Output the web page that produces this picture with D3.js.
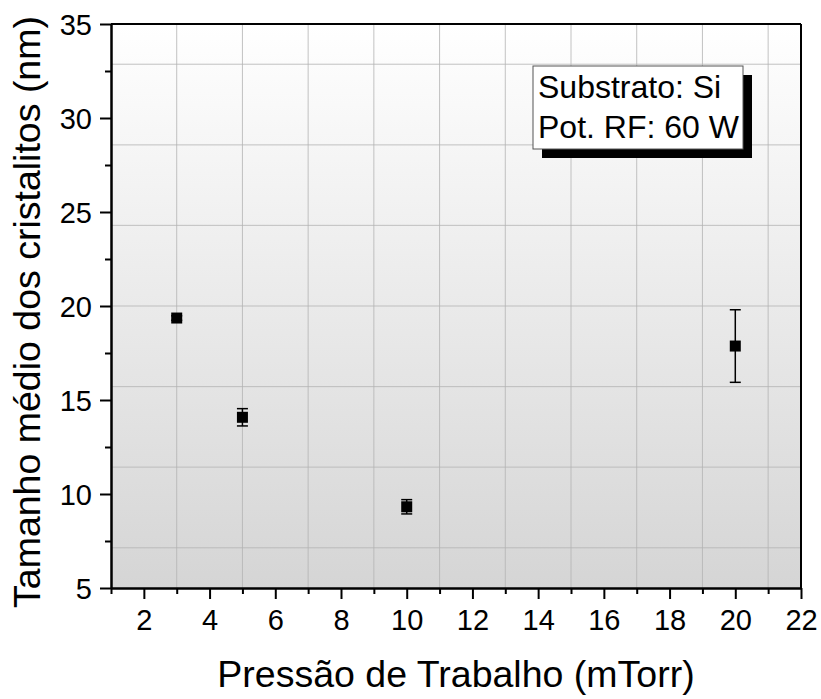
<!DOCTYPE html>
<html><head><meta charset="utf-8">
<script src="https://cdn.jsdelivr.net/npm/d3@7"></script>
<style>body{margin:0;background:#fff;}svg{display:block;font-family:"Liberation Sans",Arial,sans-serif;}</style>
</head><body>
<svg id="chart" width="821" height="699"></svg>
<script>
const pressures = [3, 5, 10, 20];
const sizes = [19.36, 14.08, 9.32, 17.87];
const errors = [0.12, 0.46, 0.38, 1.93];
const xMajorTicks = [2,4,6,8,10,12,14,16,18,20,22];
const xMinorTicks = [1,3,5,7,9,11,13,15,17,19,21];
const yMajorTicks = [5,10,15,20,25,30,35];
const yMinorTicks = [7.5,12.5,17.5,22.5,27.5,32.5];
const xGrid = [3,5,7,9,11,13,15,17,19,21];
const yGrid = [7.14,11.43,15.71,20,24.29,28.57,32.86];
const legendLines = ["Substrato: Si","Pot. RF: 60 W"];
const xTitle = "Pressão de Trabalho (mTorr)";
const yTitle = "Tamanho médio dos cristalitos (nm)";

const svg = d3.select("#chart");
const L=111, R=801, T=24, B=588;
const x = d3.scaleLinear().domain([1,22]).range([L,R]);
const y = d3.scaleLinear().domain([5,35]).range([B,T]);

const defs = svg.append("defs");
const grad = defs.append("linearGradient").attr("id","bg").attr("x1",0).attr("y1",0).attr("x2",0).attr("y2",1);
grad.append("stop").attr("offset","0%").attr("stop-color","#ffffff");
grad.append("stop").attr("offset","100%").attr("stop-color","#d5d5d5");

svg.append("rect").attr("x",L).attr("y",T).attr("width",R-L).attr("height",B-T).attr("fill","url(#bg)");

// grid
svg.append("g").selectAll("line").data(xGrid).join("line")
  .attr("x1",d=>x(d)).attr("x2",d=>x(d)).attr("y1",T).attr("y2",B)
  .attr("stroke","#b4b4b4").attr("stroke-width",1).attr("opacity",0.8);
svg.append("g").selectAll("line").data(yGrid).join("line")
  .attr("y1",d=>y(d)).attr("y2",d=>y(d)).attr("x1",L).attr("x2",R)
  .attr("stroke","#b4b4b4").attr("stroke-width",1).attr("opacity",0.8);

// axes
const fontSize = 29;
const xAxis = svg.append("g").attr("transform",`translate(0,${B})`)
  .call(d3.axisBottom(x).tickValues(xMajorTicks).tickSize(11).tickSizeOuter(0).tickPadding(10).tickFormat(d3.format("d")));
const xMinor = svg.append("g").attr("transform",`translate(0,${B})`)
  .call(d3.axisBottom(x).tickValues(xMinorTicks).tickSize(6).tickSizeOuter(0).tickFormat(""));
const yAxis = svg.append("g").attr("transform",`translate(${L},0)`)
  .call(d3.axisLeft(y).tickValues(yMajorTicks).tickSize(11).tickSizeOuter(0).tickPadding(8).tickFormat(d3.format("d")));
const yMinor = svg.append("g").attr("transform",`translate(${L},0)`)
  .call(d3.axisLeft(y).tickValues(yMinorTicks).tickSize(6).tickSizeOuter(0).tickFormat(""));
[xAxis,xMinor,yAxis,yMinor].forEach(g=>{
  g.selectAll(".domain").attr("stroke","#000").attr("stroke-width",2);
  g.selectAll(".tick line").attr("stroke","#000").attr("stroke-width",2);
  g.selectAll("text").attr("font-size",fontSize).attr("fill","#000").attr("font-family","Liberation Sans, Arial, sans-serif");
});
yAxis.selectAll("text").attr("dy","0.36em");

// frame top & right
svg.append("line").attr("x1",L).attr("x2",R).attr("y1",T).attr("y2",T).attr("stroke","#000").attr("stroke-width",2);
svg.append("line").attr("x1",R).attr("x2",R).attr("y1",T).attr("y2",B).attr("stroke","#000").attr("stroke-width",2);

// data
const data = pressures.map((p,i)=>({p, s:sizes[i], e:errors[i]}));
const eb = svg.append("g").selectAll("g").data(data).join("g");
const cap = 5.5;
eb.append("line").attr("x1",d=>x(d.p)).attr("x2",d=>x(d.p)).attr("y1",d=>y(d.s+d.e)).attr("y2",d=>y(d.s-d.e)).attr("stroke","#000").attr("stroke-width",1.5);
eb.append("line").attr("x1",d=>x(d.p)-cap).attr("x2",d=>x(d.p)+cap).attr("y1",d=>y(d.s+d.e)).attr("y2",d=>y(d.s+d.e)).attr("stroke","#000").attr("stroke-width",1.5);
eb.append("line").attr("x1",d=>x(d.p)-cap).attr("x2",d=>x(d.p)+cap).attr("y1",d=>y(d.s-d.e)).attr("y2",d=>y(d.s-d.e)).attr("stroke","#000").attr("stroke-width",1.5);
eb.append("rect").attr("x",d=>x(d.p)-5.5).attr("y",d=>y(d.s)-5.5).attr("width",11).attr("height",11).attr("fill","#000");

// legend
const lx=533, ly=66, lw=210, lh=83;
svg.append("rect").attr("x",lx+9).attr("y",ly+9).attr("width",lw).attr("height",lh).attr("fill","#000");
svg.append("rect").attr("x",lx).attr("y",ly).attr("width",lw).attr("height",lh).attr("fill","#fff").attr("stroke","#555").attr("stroke-width",1);
svg.append("g").selectAll("text").data(legendLines).join("text")
  .attr("x",lx+5).attr("y",(d,i)=>ly+32+i*40).attr("font-size",32).attr("fill","#000").text(d=>d);

// titles
svg.append("text").attr("x",(L+R)/2).attr("y",687).attr("text-anchor","middle").attr("font-size",37.5).attr("fill","#000").text(xTitle);
svg.append("text").attr("transform",`translate(40,${(T+B)/2 + 6}) rotate(-90)`).attr("text-anchor","middle").attr("font-size",37.5).attr("fill","#000").text(yTitle);
</script>
</body></html>
